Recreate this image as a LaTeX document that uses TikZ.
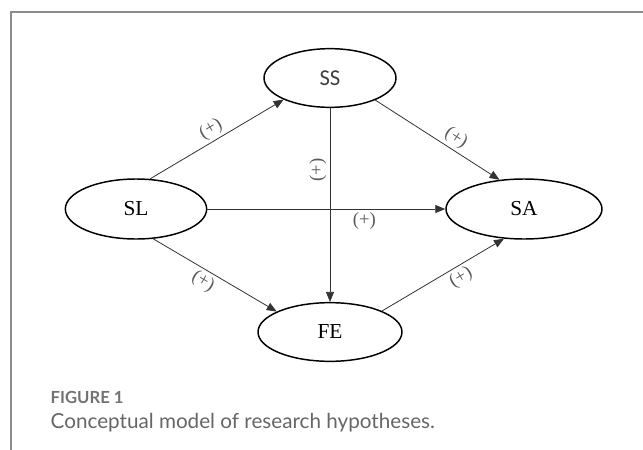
\documentclass[tikz,border=0pt]{standalone}
\usepackage{fontspec}
\setmainfont{Liberation Serif}
\newfontfamily\capfont{Lato}
\newfontfamily\ssfont{Carlito}
\usetikzlibrary{shapes.geometric,arrows.meta}

\begin{document}
\begin{tikzpicture}[x=0.75pt,y=-0.75pt,
  var/.style={draw,line width=1.1pt,ellipse,inner sep=0pt,font=\fontsize{16}{18}\selectfont},
  link/.style={draw=black!80,line width=0.6pt,-{Triangle[length=7.5pt,width=6pt]}},
  sign/.style={text=black!65,inner sep=2pt,font=\fontsize{14}{16}\selectfont}]
\useasboundingbox (0,0) rectangle (643,450);
\draw[black!45,line width=0.8pt] (643,12) -- (11,12) -- (11,450);

\node[var,minimum width=99pt,minimum height=44pt,font=\ssfont\fontsize{17}{19}\selectfont,text=black!75] (SS) at (330,78) {SS};
\node[var,minimum width=106pt,minimum height=45pt] (SL) at (136,209) {SL};
\node[var,minimum width=117pt,minimum height=45pt] (SA) at (524,209) {SA};
\node[var,minimum width=108pt,minimum height=44pt] (FE) at (330,332) {FE};

\draw[link] (SL.65) -- node[sign,sloped,above] {(+)} (SS.205);
\draw[link] (SS.334) -- node[sign,sloped,above,pos=0.6] {(+)} (SA.130);
\draw[link] (SS) -- node[sign,pos=0.32,xshift=-9pt,rotate=90] {(+)} (FE);
\draw[link] (SL) -- node[sign,below,pos=0.66] {(+)} (SA);
\draw[link] (SL.300) -- node[sign,sloped,below,pos=0.45] {(+)} (FE.159);
\draw[link] (FE.22) -- node[sign,sloped,below,pos=0.6] {(+)} (SA.236);

\node[anchor=base west,text=black!55,font=\capfont\bfseries\fontsize{12.5}{14}\selectfont] (fig) at (46,403) {FIGURE 1};
\node[anchor=base west,text=black!60,font=\capfont\fontsize{15.5}{18}\selectfont] (cap) at (46,428) {Conceptual model of research hypotheses.};
\end{tikzpicture}
\end{document}
